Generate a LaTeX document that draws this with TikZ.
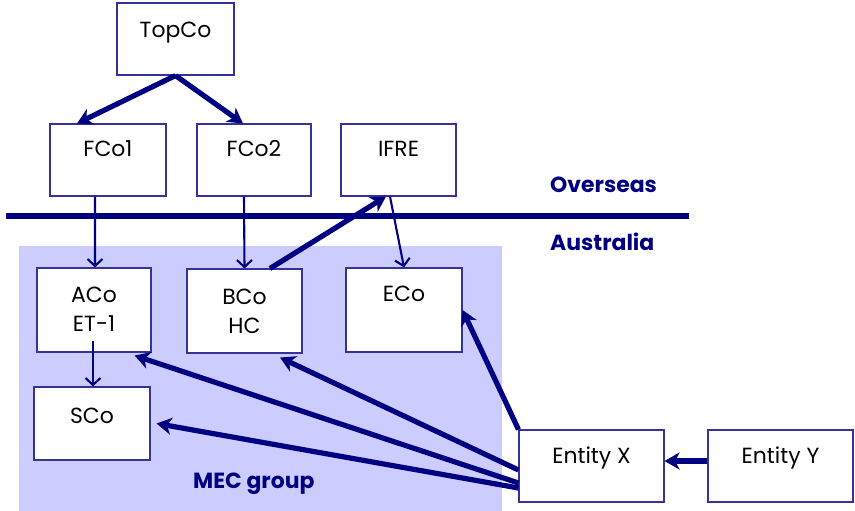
\documentclass[tikz,border=0pt]{standalone}
\usepackage{fontspec}
\setmainfont{Poppins}
\usetikzlibrary{arrows.meta,calc}
\definecolor{navy}{HTML}{000080}
\definecolor{boxline}{HTML}{333399}
\definecolor{mecfill}{HTML}{CCCCFF}
\begin{document}
\begin{tikzpicture}[x=1bp,y=-1bp,
  box/.style={draw=boxline,line width=1.1bp,fill=white,inner sep=0pt,align=center,
    font=\fontsize{22}{29}\selectfont},
  one/.style={text height=15bp},
  two/.style={text height=44bp},
  thick arrow/.style={draw=navy,line width=5.2bp,-{Stealth[length=15bp,width=17bp,inset=4.5bp]}},
  thin arrow/.style={draw=navy,line width=2.1bp,-{Straight Barb[length=7bp,width=15bp]}},
  region/.style={font=\bfseries\fontsize{22}{25}\selectfont,text=navy,inner sep=0pt,anchor=base west}]
\useasboundingbox (0,0) rectangle (855,511);
\fill[mecfill] (19,246) rectangle (502,511);
\draw[navy,line width=5.5bp] (6,216) -- (689,216);
\node[region] (overseas) at (550,193) {Overseas};
\node[region] (australia) at (550,251) {Australia};
\node[region] (mec) at (193,488) {MEC group};
\node[box,one,minimum width=117bp,minimum height=72bp,text depth=17bp] (topco) at (175.5,39) {TopCo};
\node[box,one,minimum width=116bp,minimum height=72bp,text depth=21bp] (fco1) at (108,160) {FCo1};
\node[box,one,minimum width=114bp,minimum height=72bp,text depth=21bp] (fco2) at (254,160) {FCo2};
\node[box,one,minimum width=115bp,minimum height=72bp,text depth=21bp] (ifre) at (398.5,160) {IFRE};
\node[box,two,minimum width=114bp,minimum height=84bp,text depth=1bp] (aco) at (94,310) {ACo\\ET-1};
\node[box,two,minimum width=115bp,minimum height=84bp,text depth=0bp] (bco) at (244.5,311) {BCo\\HC};
\node[box,one,minimum width=116bp,minimum height=84bp,text depth=31bp] (eco) at (404,310) {ECo};
\node[box,one,minimum width=116bp,minimum height=73bp,text depth=15bp] (sco) at (92,423.5) {SCo};
\node[box,one,minimum width=145bp,minimum height=72bp,text depth=21bp] (ex) at (591.5,466) {Entity X};
\node[box,one,minimum width=145bp,minimum height=72bp,text depth=21bp] (ey) at (780.5,466) {Entity Y};
\draw[thick arrow] (topco.south) -- ([xshift=-31bp]fco1.north);
\draw[thick arrow] (topco.south) -- ([xshift=-11bp]fco2.north);
\draw[thin arrow] ([xshift=-13bp]fco1.south) -- ([xshift=1bp]aco.north);
\draw[thin arrow] ([xshift=-10bp]fco2.south) -- (bco.north);
\draw[thin arrow] ([xshift=-8.5bp]ifre.south) -- (eco.north);
\draw[thick arrow] ([xshift=25.5bp]bco.north) -- ([xshift=-12.5bp]ifre.south);
\draw[thin arrow] ([xshift=-1bp,yshift=12bp]aco.south) -- ([xshift=1bp]sco.north);
\draw[thick arrow] (ex.north west) -- (eco.east);
\draw[thick arrow] ([yshift=-4bp]ex.west) -- ([xshift=35.5bp,yshift=-4bp]bco.south);
\draw[thick arrow] ([yshift=-17bp]ex.west) -- ([xshift=-17bp,yshift=-3bp]aco.south east);
\draw[thick arrow] ([yshift=-22bp]ex.west) -- ([xshift=6bp]sco.east);
\draw[thick arrow] ([yshift=5bp]ey.west) -- ([yshift=5bp]ex.east);
\end{tikzpicture}
\end{document}
